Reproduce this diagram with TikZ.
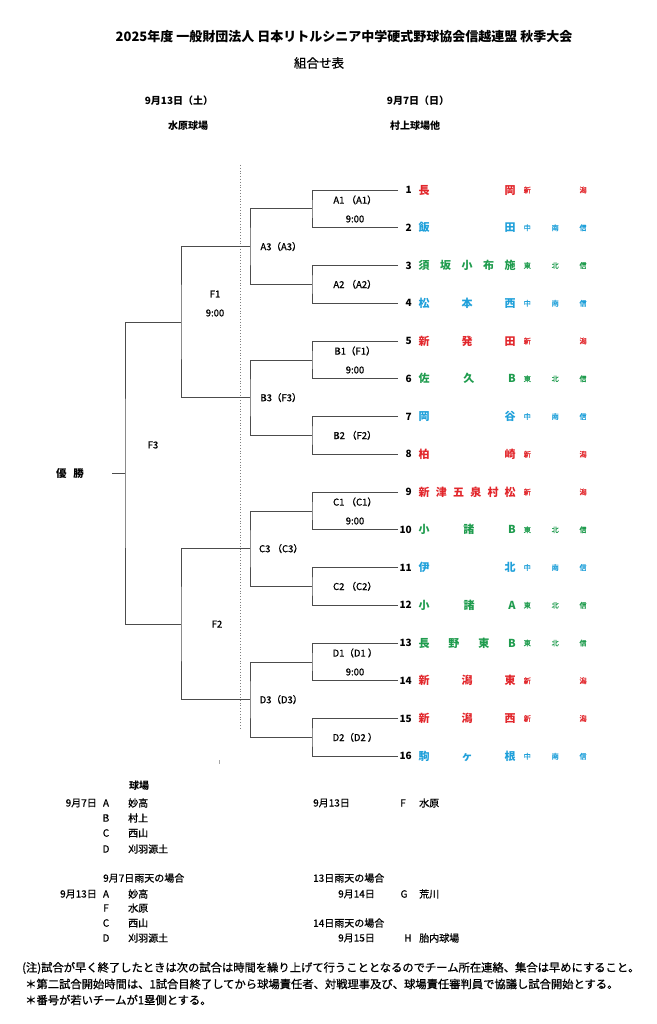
\documentclass[tikz,border=0pt]{standalone}
\usepackage{fontspec}
\setmainfont{Noto Sans CJK JP}
\newfontfamily\medfont{Noto Sans CJK JP}[FakeBold=0.8]
\usepackage{xcolor}
\usepackage{tikz}

\definecolor{nred}{HTML}{E2262B}
\definecolor{nblue}{HTML}{1FA0DA}
\definecolor{ngreen}{HTML}{1F9C4E}

\tikzset{
  bline/.style={line width=0.8pt, draw=black!70},
  ttl/.style={font=\fontsize{13}{15}\selectfont\bfseries},
  head/.style={font=\fontsize{10}{12}\selectfont\bfseries},
  mlabel/.style={inner sep=0pt, font=\fontsize{9.5}{11}\selectfont\medfont},
  tnum/.style={anchor=east, inner sep=0pt, font=\fontsize{10}{12}\selectfont\bfseries},
  tname/.style={anchor=west, text width=97pt, align=left, inner sep=0pt, font=\fontsize{11}{13}\selectfont\bfseries},
  tarea/.style={anchor=west, text width=63pt, align=left, inner sep=0pt, font=\fontsize{7.2}{8}\selectfont\medfont},
  info/.style={anchor=west, inner sep=0pt, font=\fontsize{10}{12}\selectfont\medfont},
  note/.style={anchor=west, inner sep=0pt, font=\fontsize{11.3}{13}\selectfont\medfont},
}

\begin{document}
\begin{tikzpicture}[x=1pt, y=-1pt]
            \useasboundingbox (0,0) rectangle (656,1024);
            \fill[white] (0,0) rectangle (656,1024);

            % heading
            \node[ttl] (title) at (344,37) {2025年度 一般財団法人 日本リトルシニア中学硬式野球協会信越連盟 秋季大会};
            \node[font=\fontsize{12.5}{14}\selectfont\medfont] (sub) at (319,63) {組合せ表};
            \node[head] (day1) at (179,101) {9月13日（土）};
            \node[head] (day2) at (418,101) {9月7日（日）};
            \node[head] (ven1) at (188,126) {水原球場};
            \node[head] (ven2) at (415,126) {村上球場他};

            \draw[gray, dotted, line width=0.8pt] (240,165) -- (240,728);

            % team line ends
            \coordinate (e1) at (398,190);
            \coordinate (e2) at (398,227.75);
            \coordinate (e3) at (398,265.5);
            \coordinate (e4) at (398,303.25);
            \coordinate (e5) at (398,341);
            \coordinate (e6) at (398,378.75);
            \coordinate (e7) at (398,416.5);
            \coordinate (e8) at (398,454.25);
            \coordinate (e9) at (398,492);
            \coordinate (e10) at (398,529.75);
            \coordinate (e11) at (398,567.5);
            \coordinate (e12) at (398,605.25);
            \coordinate (e13) at (398,643);
            \coordinate (e14) at (398,680.75);
            \coordinate (e15) at (398,718.5);
            \coordinate (e16) at (398,756.25);

            % first round
            \coordinate (m1) at (312,208.9);
            \coordinate (m2) at (312,284.4);
            \coordinate (m3) at (312,359.9);
            \coordinate (m4) at (312,435.4);
            \coordinate (m5) at (312,510.9);
            \coordinate (m6) at (312,586.4);
            \coordinate (m7) at (312,661.9);
            \coordinate (m8) at (312,737.4);

            % second round, semi, final
            \coordinate (q1) at (250,246.6);
            \coordinate (q2) at (250,397.6);
            \coordinate (q3) at (250,548.6);
            \coordinate (q4) at (250,699.6);
            \coordinate (s1) at (181,322.1);
            \coordinate (s2) at (181,624.1);
            \coordinate (fin) at (125,473.1);
            \coordinate (wend) at (112,473.1);

            \draw[bline] (e1) -| (m1) |- (e2); % A1
            \draw[bline] (e3) -| (m2) |- (e4); % A2
            \draw[bline] (e5) -| (m3) |- (e6); % B1
            \draw[bline] (e7) -| (m4) |- (e8); % B2
            \draw[bline] (e9) -| (m5) |- (e10); % C1
            \draw[bline] (e11) -| (m6) |- (e12); % C2
            \draw[bline] (e13) -| (m7) |- (e14); % D1
            \draw[bline] (e15) -| (m8) |- (e16); % D2

            \draw[bline] (m1) -| (q1) |- (m2); % A3
            \draw[bline] (m3) -| (q2) |- (m4); % B3
            \draw[bline] (m5) -| (q3) |- (m6); % C3
            \draw[bline] (m7) -| (q4) |- (m8); % D3

            \draw[bline] (q1) -| (s1) |- (q2); % F1
            \draw[bline] (q3) -| (s2) |- (q4); % F2
            \draw[bline] (s1) -| (fin) |- (s2); % F3
            \draw[bline] (wend) -- (fin);

            \node[font=\fontsize{10.5}{12}\selectfont\bfseries] (win) at (70,473.1) {優\hspace{7pt}勝};
            \draw[gray!70] (219,760) -- (219,764);

            % match labels
            \node[mlabel] (lA1) at (355,200) {A1 （A1）};
            \node[mlabel] (tA1) at (355,219) {9:00};
            \node[mlabel] (lA2) at (355,284.4) {A2 （A2）};
            \node[mlabel] (lB1) at (355,351) {B1（F1）};
            \node[mlabel] (tB1) at (355,370) {9:00};
            \node[mlabel] (lB2) at (355,435.4) {B2 （F2）};
            \node[mlabel] (lC1) at (355,502) {C1 （C1）};
            \node[mlabel] (tC1) at (355,521) {9:00};
            \node[mlabel] (lC2) at (355,586.4) {C2 （C2）};
            \node[mlabel] (lD1) at (355,653) {D1（D1 ）};
            \node[mlabel] (tD1) at (355,672) {9:00};
            \node[mlabel] (lD2) at (355,737.4) {D2（D2 ）};

            \node[mlabel] (lA3) at (281,246.6) {A3（A3）};
            \node[mlabel] (lB3) at (281,397.6) {B3（F3）};
            \node[mlabel] (lC3) at (281,548.6) {C3 （C3）};
            \node[mlabel] (lD3) at (281,699.6) {D3（D3）};

            \node[mlabel] (lF1) at (215,294) {F1};
            \node[mlabel] (tF1) at (215,313) {9:00};
            \node[mlabel] (lF2) at (217,624.1) {F2};
            \node[mlabel] (lF3) at (153,445) {F3};

            % teams
            \node[tnum] (n1) at (412,190) {1};
            \node[tname, text=nred] (t1) at (418.5,190) {長\hfill 岡};
            \node[tarea, text=nred] (a1) at (523.5,190) {新\hfill 潟};
            \node[tnum] (n2) at (412,227.75) {2};
            \node[tname, text=nblue] (t2) at (418.5,227.75) {飯\hfill 田};
            \node[tarea, text=nblue] (a2) at (523.5,227.75) {中\hfill 南\hfill 信};
            \node[tnum] (n3) at (412,265.5) {3};
            \node[tname, text=ngreen] (t3) at (418.5,265.5) {須\hfill 坂\hfill 小\hfill 布\hfill 施};
            \node[tarea, text=ngreen] (a3) at (523.5,265.5) {東\hfill 北\hfill 信};
            \node[tnum] (n4) at (412,303.25) {4};
            \node[tname, text=nblue] (t4) at (418.5,303.25) {松\hfill 本\hfill 西};
            \node[tarea, text=nblue] (a4) at (523.5,303.25) {中\hfill 南\hfill 信};
            \node[tnum] (n5) at (412,341) {5};
            \node[tname, text=nred] (t5) at (418.5,341) {新\hfill 発\hfill 田};
            \node[tarea, text=nred] (a5) at (523.5,341) {新\hfill 潟};
            \node[tnum] (n6) at (412,378.75) {6};
            \node[tname, text=ngreen] (t6) at (418.5,378.75) {佐\hfill 久\hfill B};
            \node[tarea, text=ngreen] (a6) at (523.5,378.75) {東\hfill 北\hfill 信};
            \node[tnum] (n7) at (412,416.5) {7};
            \node[tname, text=nblue] (t7) at (418.5,416.5) {岡\hfill 谷};
            \node[tarea, text=nblue] (a7) at (523.5,416.5) {中\hfill 南\hfill 信};
            \node[tnum] (n8) at (412,454.25) {8};
            \node[tname, text=nred] (t8) at (418.5,454.25) {柏\hfill 崎};
            \node[tarea, text=nred] (a8) at (523.5,454.25) {新\hfill 潟};
            \node[tnum] (n9) at (412,492) {9};
            \node[tname, text=nred] (t9) at (418.5,492) {新\hfill 津\hfill 五\hfill 泉\hfill 村\hfill 松};
            \node[tarea, text=nred] (a9) at (523.5,492) {新\hfill 潟};
            \node[tnum] (n10) at (412,529.75) {10};
            \node[tname, text=ngreen] (t10) at (418.5,529.75) {小\hfill 諸\hfill B};
            \node[tarea, text=ngreen] (a10) at (523.5,529.75) {東\hfill 北\hfill 信};
            \node[tnum] (n11) at (412,567.5) {11};
            \node[tname, text=nblue] (t11) at (418.5,567.5) {伊\hfill 北};
            \node[tarea, text=nblue] (a11) at (523.5,567.5) {中\hfill 南\hfill 信};
            \node[tnum] (n12) at (412,605.25) {12};
            \node[tname, text=ngreen] (t12) at (418.5,605.25) {小\hfill 諸\hfill A};
            \node[tarea, text=ngreen] (a12) at (523.5,605.25) {東\hfill 北\hfill 信};
            \node[tnum] (n13) at (412,643) {13};
            \node[tname, text=ngreen] (t13) at (418.5,643) {長\hfill 野\hfill 東\hfill B};
            \node[tarea, text=ngreen] (a13) at (523.5,643) {東\hfill 北\hfill 信};
            \node[tnum] (n14) at (412,680.75) {14};
            \node[tname, text=nred] (t14) at (418.5,680.75) {新\hfill 潟\hfill 東};
            \node[tarea, text=nred] (a14) at (523.5,680.75) {新\hfill 潟};
            \node[tnum] (n15) at (412,718.5) {15};
            \node[tname, text=nred] (t15) at (418.5,718.5) {新\hfill 潟\hfill 西};
            \node[tarea, text=nred] (a15) at (523.5,718.5) {新\hfill 潟};
            \node[tnum] (n16) at (412,756.25) {16};
            \node[tname, text=nblue] (t16) at (418.5,756.25) {駒\hfill ヶ\hfill 根};
            \node[tarea, text=nblue] (a16) at (523.5,756.25) {中\hfill 南\hfill 信};

            % venues
            \node[info, font=\fontsize{10}{12}\selectfont\bfseries] (vhead) at (129,786) {球場};
            \node[info, anchor=east] (vd1) at (97,803) {9月7日};
            \node[info, anchor=center] (vA) at (106,803) {A};
            \node[info] (vAn) at (128,803) {妙高};
            \node[info, anchor=center] (vB) at (106,818) {B};
            \node[info] (vBn) at (128,818) {村上};
            \node[info, anchor=center] (vC) at (106,833) {C};
            \node[info] (vCn) at (128,833) {西山};
            \node[info, anchor=center] (vD) at (106,849) {D};
            \node[info] (vDn) at (128,849) {刈羽源土};
            \node[info] (vd2) at (313,803) {9月13日};
            \node[info, anchor=center] (vF) at (403,803) {F};
            \node[info] (vFn) at (419,803) {水原};

            \node[info] (rain1) at (103,878) {9月7日雨天の場合};
            \node[info, anchor=east] (rd1) at (97,894) {9月13日};
            \node[info, anchor=center] (rA) at (106,894) {A};
            \node[info] (rAn) at (128,894) {妙高};
            \node[info, anchor=center] (rF) at (106,908) {F};
            \node[info] (rFn) at (128,908) {水原};
            \node[info, anchor=center] (rC) at (106,923) {C};
            \node[info] (rCn) at (128,923) {西山};
            \node[info, anchor=center] (rD) at (106,938) {D};
            \node[info] (rDn) at (128,938) {刈羽源土};
            \node[info] (rain2) at (313,878) {13日雨天の場合};
            \node[info] (rd2) at (338,894) {9月14日};
            \node[info, anchor=center] (rG) at (404,894) {G};
            \node[info] (rGn) at (419,894) {荒川};
            \node[info] (rain3) at (313,923) {14日雨天の場合};
            \node[info] (rd3) at (338,938) {9月15日};
            \node[info, anchor=center] (rH) at (408,938) {H};
            \node[info] (rHn) at (419,938) {胎内球場};

            % notes
            \node[note] (note1) at (22,968) {(注)試合が早く終了したときは次の試合は時間を繰り上げて行うこととなるのでチーム所在連絡、集合は早めにすること。};
            \node[note] (note2) at (25,984) {＊第二試合開始時間は、1試合目終了してから球場責任者、対戦理事及び、球場責任審判員で協議し試合開始とする。};
            \node[note] (note3) at (25,1000) {＊番号が若いチームが1塁側とする。};
        \end{tikzpicture}
\end{document}
